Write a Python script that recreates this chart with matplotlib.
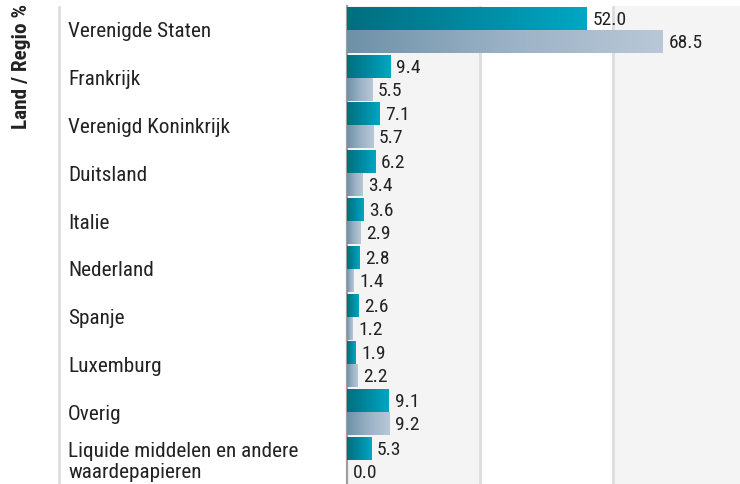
import numpy as np
import matplotlib
matplotlib.use("Agg")
import matplotlib.pyplot as plt
from matplotlib import font_manager
from matplotlib.colors import LinearSegmentedColormap

categories = ["Verenigde Staten", "Frankrijk", "Verenigd Koninkrijk", "Duitsland",
              "Italie", "Nederland", "Spanje", "Luxemburg", "Overig",
              "Liquide middelen en andere\nwaardepapieren"]
fund = [52.0, 9.4, 7.1, 6.2, 3.6, 2.8, 2.6, 1.9, 9.1, 5.3]
benchmark = [68.5, 5.5, 5.7, 3.4, 2.9, 1.4, 1.2, 2.2, 9.2, 0.0]
y_title = "Land / Regio %"

names = {f.name for f in font_manager.fontManager.ttflist}
fam = "Roboto Condensed" if "Roboto Condensed" in names else "Roboto"
plt.rcParams["font.family"] = [fam, "DejaVu Sans"]

teal_cmap = LinearSegmentedColormap.from_list("teal", ["#006f7f", "#0089a0", "#00a7c3"])
grey_cmap = LinearSegmentedColormap.from_list("grey", ["#6e91a8", "#9ab1c5", "#b9c8d7"])

fig = plt.figure(figsize=(7.4, 4.84), dpi=100)
ax = fig.add_axes([347/740, 0, 1 - 347/740, 1 - 6/484])

n = len(categories)
y = np.arange(n)
h = 0.48
xmax = 85.2
grid1, grid2 = 28.8, 57.6

# background bands
ax.axvspan(0, grid1, color="#f4f4f4", zorder=0, lw=0)
ax.axvspan(grid2, xmax, color="#f4f4f4", zorder=0, lw=0)
for g in (grid1, grid2):
    ax.axvline(g, color="#dddddd", lw=2, zorder=1)

b1 = ax.barh(y - h/2, fund, height=h, color="#008a9a", zorder=2, lw=0)
b2 = ax.barh(y + h/2, benchmark, height=h, color="#9ab1c5", zorder=2, lw=0)

grad = np.linspace(0, 1, 256).reshape(1, -1)
for bars, cmap in ((b1, teal_cmap), (b2, grey_cmap)):
    for r in bars:
        w = r.get_width()
        if w <= 0:
            continue
        y0 = r.get_y()
        ax.imshow(grad, cmap=cmap, aspect="auto", interpolation="bilinear",
                  extent=[r.get_x(), r.get_x() + w, y0 + r.get_height(), y0], zorder=3)

for bars, vals in ((b1, fund), (b2, benchmark)):
    for r, v in zip(bars, vals):
        ax.text(r.get_width() + 1.2, r.get_y() + r.get_height()/2 + 0.03, f"{v:.1f}",
                ha="left", va="center", fontsize=14, color="#222222", zorder=4)

ax.set_xlim(0, xmax)
ax.set_ylim(n - 0.5, -0.5)
ax.set_xticks([])
ax.set_yticks([])
for s in ("top", "right", "bottom"):
    ax.spines[s].set_visible(False)
ax.spines["left"].set_color("#a0a0a0")
ax.spines["left"].set_linewidth(1.6)

# category labels
for i, c in enumerate(categories):
    yy = 1 - (6 + 2 + (i + 0.5) * (478 / n)) / 484
    fig.text(68/740, yy, c, ha="left", va="center", fontsize=15.3,
             color="#222222", linespacing=1.15)

# left divider line
fig.add_artist(plt.Line2D([59/740, 59/740], [0, 1 - 7/484], color="#dddddd", lw=2))

fig.text(22/740, 1 - 4/484, y_title, rotation=90, ha="center", va="top",
         fontsize=15.3, fontweight="bold", color="#222222")

fig.savefig("out.png", dpi=100)
